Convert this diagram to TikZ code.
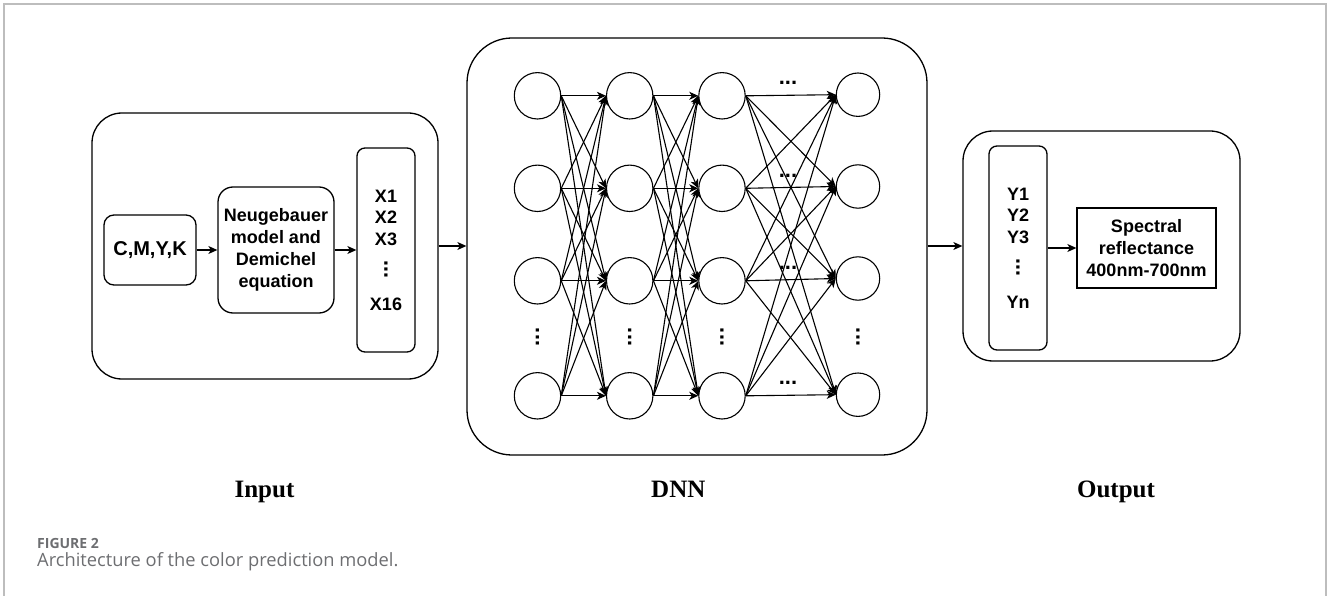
\documentclass[tikz,border=0pt]{standalone}
\usepackage{fontspec}
\setmainfont{Liberation Sans}
\newfontfamily\labelfont{Liberation Serif}
\newfontfamily\capfont{Open Sans}
\usepackage{tikz}
\usetikzlibrary{arrows.meta}

\definecolor{framegray}{HTML}{BDBDBD}
\definecolor{capgray}{HTML}{6D6E71}

% bold dots stacked upright
\newcommand{\vdotsbf}{{\fontsize{22}{22}\selectfont\rotatebox{90}{...}}}

\begin{document}
\begin{tikzpicture}[x=1pt, y=-1pt,
    >={Stealth[length=9pt, width=8pt, inset=2.5pt]},
    every node/.style={font=\bfseries\fontsize{18}{21.5}\selectfont, inner sep=0pt},
    box/.style={draw, line width=1.3pt, rounded corners=#1, align=center},
    vecbox/.style={box=8pt, minimum width=58pt, minimum height=204pt},
    neuron/.style={draw, circle, line width=1.1pt, minimum size=46.4pt},
    link/.style={->, line width=1.1pt},
    more/.style={font=\bfseries\fontsize{22}{22}\selectfont},
    title/.style={font=\labelfont\bfseries\fontsize{25}{30}\selectfont}]

    \useasboundingbox (0,0) rectangle (1328,596);
    \draw[framegray, line width=1.5pt] (4,596) -- (4,4) -- (1326,4) -- (1326,596);

    % input stage
    \node[box=30pt, minimum width=346pt, minimum height=266pt] (input) at (265,246) {};
    \node[box=10pt, minimum width=92pt, minimum height=70pt,
          font=\bfseries\fontsize{20}{24}\selectfont] (cmyk) at (150,250) {C,M,Y,K};
    \node[box=15pt, minimum width=116pt, minimum height=126pt,
          font=\bfseries\fontsize{18}{22}\selectfont] (neug) at (276,250)
          {Neugebauer\\model and\\Demichel\\equation};
    \node[vecbox] (xvec) at (386,250) {X1\\X2\\X3\\[12pt]\vdotsbf\\[10pt]X16};
    \draw[link] (cmyk) -- (neug);
    \draw[link] (neug) -- (xvec);

    % network
    \node[box=45pt, minimum width=460pt, minimum height=417pt] (dnn) at (697,246.5) {};
    \draw[link] (input.east) -- (input.east -| dnn.west);

    \foreach \c/\x in {1/537.5, 2/629.7, 3/722}
        \foreach \r/\y in {1/95.8, 2/188.3, 3/280.8, 4/395.8}
            \node[neuron] (n\c\r) at (\x,\y) {};
    \foreach \r/\y in {1/94.7, 2/186.5, 3/278.5, 4/394.7}
        \node[neuron, minimum size=43.4pt] (n4\r) at (858,\y) {};

    \foreach \a/\b in {1/2, 2/3, 3/4}
        \foreach \i in {1,...,4}
            \foreach \j in {1,...,4}
                \draw[link] (n\a\i.east) -- (n\b\j.west);

    \foreach \c/\x in {1/537.5, 2/629.7, 3/722, 4/858}
        \node[more, rotate=90] (vd\c) at (\x,337) {...};
    \foreach \r/\y in {1/83, 2/176, 3/268, 4/383}
        \node[more] (hd\r) at (788,\y) {...};

    % output stage
    \node[box=30pt, minimum width=277pt, minimum height=230pt] (output) at (1101.5,246) {};
    \draw[link] (dnn.east |- output.west) -- (output.west);
    \node[vecbox] (yvec) at (1018,248) {Y1\\Y2\\Y3\\[12pt]\vdotsbf\\[10pt]Yn};
    \node[draw, line width=1.3pt, minimum width=139pt, minimum height=80pt, align=center,
          font=\bfseries\fontsize{18}{22}\selectfont] (spec) at (1146.5,248)
          {Spectral\\reflectance\\400nm-700nm};
    \draw[link] (yvec) -- (spec);

    % stage titles
    \node[title, anchor=base] (inlabel) at (264.5,497) {Input};
    \node[title, anchor=base] (dnnlabel) at (678.3,497) {DNN};
    \node[title, anchor=base] (outlabel) at (1116,497) {Output};

    % caption
    \node[anchor=base west, text=capgray, font=\capfont\bfseries\fontsize{14}{17}\selectfont]
        (fignum) at (37,548.3) {FIGURE 2};
    \node[anchor=base west, text=capgray, font=\capfont\fontsize{18.3}{22}\selectfont]
        (caption) at (37,566) {Architecture of the color prediction model.};
\end{tikzpicture}
\end{document}
